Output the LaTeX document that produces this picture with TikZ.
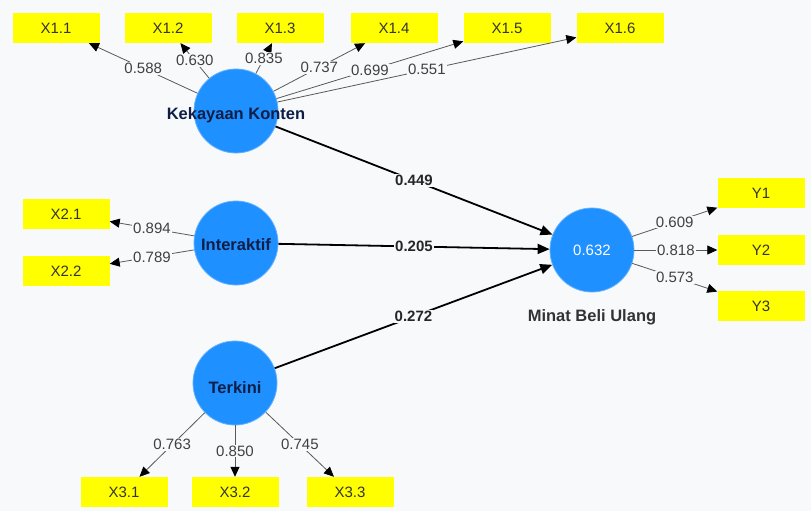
\documentclass[tikz,border=0pt]{standalone}
\usepackage{fontspec}
\setmainfont{Liberation Sans}
\usetikzlibrary{arrows.meta,positioning}
\definecolor{lvblue}{RGB}{30,144,255}
\definecolor{mvyellow}{RGB}{255,255,0}
\definecolor{bggray}{RGB}{248,249,251}
\definecolor{lvtext}{RGB}{15,30,70}
\tikzset{
  lv/.style={circle,fill=lvblue,draw=lvblue!70!white,line width=0.8pt,minimum size=84pt,inner sep=0pt},
  lvname/.style={inner sep=1pt,font=\fontsize{16.5}{19}\selectfont\bfseries,text=lvtext},
  mv/.style={fill=mvyellow,minimum width=87pt,minimum height=30pt,inner sep=0pt,font=\fontsize{15}{17}\selectfont,text=black!80},
  loading/.style={draw=black!65,line width=0.8pt,-{Triangle[length=10pt,width=9pt,color=black]}},
  struct/.style={draw=black,line width=1.8pt,-{Triangle[length=12pt,width=10pt]}},
  loadval/.style={fill=bggray,inner sep=1pt,font=\fontsize{15}{17}\selectfont,text=black!75},
  structval/.style={fill=bggray,inner sep=1pt,font=\fontsize{15}{18}\selectfont\bfseries,text=black!85},
}
\begin{document}
\begin{tikzpicture}[x=1pt,y=-1pt]
  \fill[bggray] (0,0) rectangle (811,511);
  \useasboundingbox (0,0) rectangle (811,511);
  % latent variables
  \node[lv] (kk) at (236,111) {};
  \node[lv] (inter) at (236,243) {};
  \node[lv] (terk) at (235,383) {};
  \node[lv] (mbu) at (592,250) {};
  % indicators
  \foreach \name/\txt/\x in {x11/X1.1/56, x12/X1.2/168, x13/X1.3/280, x14/X1.4/394, x15/X1.5/507, x16/X1.6/620}
    \node[mv] (\name) at (\x,28) {\txt};
  \node[mv] (x21) at (66,214) {X2.1};
  \node[mv] (x22) at (66,271) {X2.2};
  \node[mv] (x31) at (124,492) {X3.1};
  \node[mv] (x32) at (235,492) {X3.2};
  \node[mv] (x33) at (350,492) {X3.3};
  \node[mv] (y1) at (761,193) {Y1};
  \node[mv] (y2) at (761,250) {Y2};
  \node[mv] (y3) at (761,306) {Y3};
  % outer loadings
  \foreach \mv/\val in {x11/0.588, x12/0.630, x13/0.835, x14/0.737, x15/0.699, x16/0.551}
    \draw[loading] (kk) -- node[loadval] {\val} (\mv);
  \foreach \mv/\val in {x21/0.894, x22/0.789}
    \draw[loading] (inter) -- node[loadval] {\val} (\mv);
  \foreach \mv/\val in {x31/0.763, x32/0.850, x33/0.745}
    \draw[loading] (terk) -- node[loadval] {\val} (\mv);
  \foreach \mv/\val in {y1/0.609, y2/0.818, y3/0.573}
    \draw[loading] (mbu) -- node[loadval] {\val} (\mv);
  % inner model
  \draw[struct] (kk) -- node[structval] {0.449} (mbu);
  \draw[struct] (inter) -- node[structval] {0.205} (mbu);
  \draw[struct] (terk) -- node[structval] {0.272} (mbu);
  % names
  \node[lvname] (kkname) at ([yshift=-4pt]kk.center) {Kekayaan Konten};
  \node[lvname] (intername) at ([yshift=-2pt]inter.center) {Interaktif};
  \node[lvname] (terkname) at ([yshift=-5pt]terk.center) {Terkini};
  \node[inner sep=1pt,font=\fontsize{15}{17}\selectfont,text=white] (r2) at (mbu) {0.632};
  \node[lvname,text=black!80,below=16pt of mbu] (mbuname) {Minat Beli Ulang};
\end{tikzpicture}
\end{document}
